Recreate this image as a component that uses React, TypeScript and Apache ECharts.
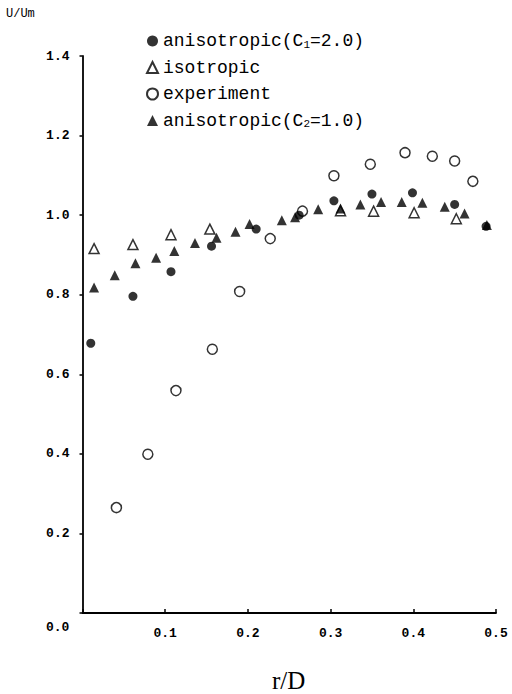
import React, { useEffect, useRef } from "react";
import * as echarts from "echarts";

// anisotropic (C1 = 2.0) — filled circles
const c1R = [0.010, 0.061, 0.107, 0.156, 0.210, 0.262, 0.304, 0.350, 0.399, 0.450, 0.488];
const c1V = [0.678, 0.796, 0.858, 0.922, 0.965, 1.000, 1.036, 1.053, 1.056, 1.027, 0.972];

// isotropic — open triangles
const isoR = [0.014, 0.061, 0.107, 0.154, 0.312, 0.352, 0.401, 0.452];
const isoV = [0.916, 0.926, 0.951, 0.965, 1.011, 1.010, 1.006, 0.991];

// experiment — open circles
const expR = [0.041, 0.079, 0.113, 0.157, 0.190, 0.227, 0.266, 0.304, 0.348, 0.390, 0.423, 0.450, 0.472];
const expV = [0.265, 0.399, 0.559, 0.663, 0.808, 0.941, 1.010, 1.099, 1.128, 1.157, 1.148, 1.136, 1.085];

// anisotropic (C2 = 1.0) — filled triangles
const c2R = [0.014, 0.039, 0.064, 0.089, 0.111, 0.136, 0.162, 0.185, 0.202, 0.241, 0.257, 0.285, 0.312, 0.336, 0.361, 0.386, 0.411, 0.438, 0.462, 0.489];
const c2V = [0.818, 0.849, 0.879, 0.893, 0.910, 0.930, 0.943, 0.958, 0.978, 0.987, 0.995, 1.015, 1.017, 1.027, 1.033, 1.033, 1.031, 1.021, 1.004, 0.975];

const seriesNames = ["anisotropic(C1=2.0)", "isotropic", "experiment", "anisotropic(C2=1.0)"];
const xTicks = [0, 0.1, 0.2, 0.3, 0.4, 0.5];
const yTicks = [0, 0.2, 0.4, 0.6, 0.8, 1.0, 1.2, 1.4];
const xName = "r/D";
const yName = "U/Um";
const originLabel = "0.0";

const zip = (a: number[], b: number[]) => a.map((v, i) => [v, b[i]]);

const MONO = "Liberation Mono";

export default function App() {
  const ref = useRef<HTMLDivElement>(null);
  useEffect(() => {
    if (!ref.current) return;
    const chart = echarts.init(ref.current, null, { renderer: "svg" });
    const open = { color: "#fff", borderColor: "#000", borderWidth: 1.5 };
    const filled = { color: "#000", borderColor: "#000", borderWidth: 0 };
    chart.setOption({
      animation: false,
      backgroundColor: "#fff",
      grid: { left: 82.5, right: 16, top: 56, bottom: 81 },
      legend: {
        orient: "vertical",
        left: 141,
        top: 27,
        itemWidth: 11,
        itemHeight: 11,
        itemGap: 8.5,
        data: [
          { name: seriesNames[0], icon: "circle" },
          { name: seriesNames[1], icon: "triangle" },
          { name: seriesNames[2], icon: "circle" },
          { name: seriesNames[3], icon: "triangle" },
        ],
        formatter: (n: string) => {
          const m = n.match(/^(.*\(C)(\d)(=.*)$/);
          return m ? `${m[1]}{sub|${m[2]}}${m[3]}` : n;
        },
        textStyle: {
          fontFamily: MONO,
          fontSize: 18,
          lineHeight: 18,
          color: "#000",
          rich: {
            sub: { fontFamily: MONO, fontSize: 11, color: "#000", padding: [7, 0, 0, 0] },
          },
        },
      },
      xAxis: {
        type: "value",
        min: xTicks[0],
        max: xTicks[xTicks.length - 1],
        interval: 0.1,
        splitLine: { show: false },
        axisLine: { lineStyle: { color: "#000", width: 1.8 } },
        axisTick: { inside: true, length: 4, lineStyle: { color: "#000", width: 1.5 } },
        axisLabel: {
          margin: 14,
          fontFamily: MONO,
          fontSize: 13,
          fontWeight: "bold",
          color: "#000",
          formatter: (v: number) => (v === 0 ? "" : v.toFixed(1)),
        },
      },
      yAxis: {
        type: "value",
        min: yTicks[0],
        max: yTicks[yTicks.length - 1],
        interval: 0.2,
        splitLine: { show: false },
        axisLine: { lineStyle: { color: "#000", width: 1.8 } },
        axisTick: { length: 3, lineStyle: { color: "#000", width: 1.5 } },
        axisLabel: {
          margin: 13,
          fontFamily: MONO,
          fontSize: 13,
          fontWeight: "bold",
          color: "#000",
          formatter: (v: number) => (v === 0 ? "" : v.toFixed(1)),
        },
      },
      graphic: [
        {
          type: "text",
          left: 6,
          top: 8,
          style: { text: yName, fontFamily: MONO, fontSize: 12, fill: "#000" },
        },
        {
          type: "text",
          left: 46,
          top: 621,
          style: { text: originLabel, fontFamily: MONO, fontSize: 13, fontWeight: "bold", fill: "#000" },
        },
        {
          type: "text",
          left: 272,
          top: 668,
          style: { text: xName, fontFamily: "Liberation Serif", fontSize: 25, fill: "#000" },
        },
      ],
      series: [
        {
          name: seriesNames[2],
          type: "scatter",
          symbol: "circle",
          symbolSize: 10,
          itemStyle: open,
          data: zip(expR, expV),
          z: 2,
        },
        {
          name: seriesNames[1],
          type: "scatter",
          symbol: "triangle",
          symbolSize: 10,
          itemStyle: open,
          data: zip(isoR, isoV),
          z: 3,
        },
        {
          name: seriesNames[0],
          type: "scatter",
          symbol: "circle",
          symbolSize: 9,
          itemStyle: filled,
          data: zip(c1R, c1V),
          z: 4,
        },
        {
          name: seriesNames[3],
          type: "scatter",
          symbol: "triangle",
          symbolSize: 10,
          itemStyle: filled,
          data: zip(c2R, c2V),
          z: 5,
        },
      ],
    });
    return () => chart.dispose();
  }, []);
  return (
    <div
      ref={ref}
      style={{ position: "absolute", left: 0, top: 0, width: 512, height: 694, background: "#fff" }}
    />
  );
}
